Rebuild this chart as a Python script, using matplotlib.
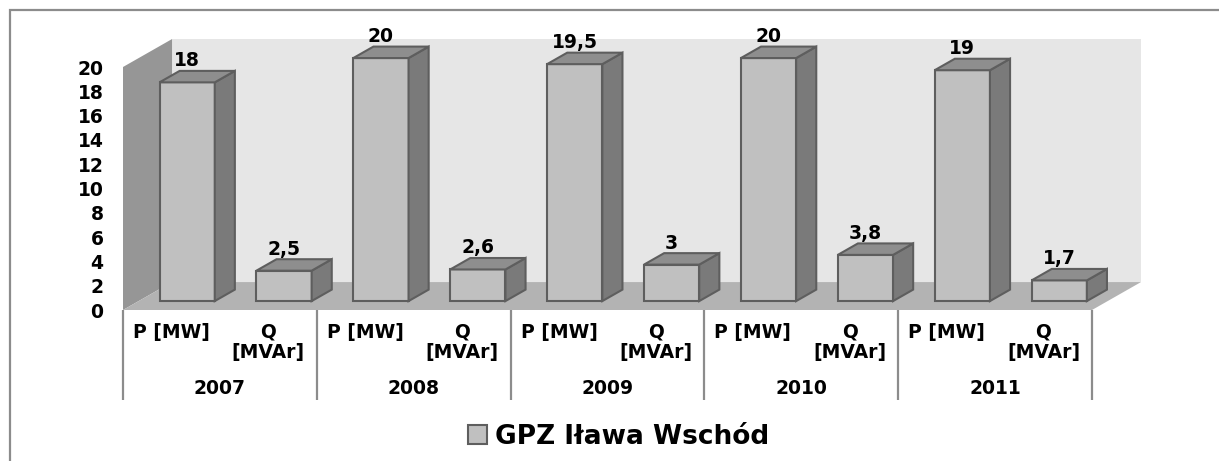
import matplotlib.pyplot as plt
from matplotlib.patches import Polygon, Rectangle

plt.rcParams['font.family'] = ['DejaVu Sans']
plt.rcParams['font.weight'] = 'bold'

years = ["2007", "2008", "2009", "2010", "2011"]
kinds = ["P [MW]", "Q\n[MVAr]"]
p_mw = [18, 20, 19.5, 20, 19]
q_mvar = [2.5, 2.6, 3, 3.8, 1.7]
series_name = "GPZ Iława Wschód"

values = []
for p, q in zip(p_mw, q_mvar):
    values += [p, q]
labels = kinds * len(years)
n = len(values)
ymax = 20

# pseudo-3d depth of the box, in data units
DX, DY = 0.506, 2.30
d_front, d_back = 0.32, 0.73
bar_w = 0.57

front_c = "#c0c0c0"
side_c = "#7a7a7a"
top_c = "#8e8e8e"
edge_c = "#5e5e5e"
fs = 13.5

W, H = 1219, 461
fig = plt.figure(figsize=(W / 100, H / 100), dpi=100)
ax = fig.add_axes([123 / W, 1 - 310 / H, (1092 - 123) / W, (310 - 67) / H])
ax.set_xlim(0, n)
ax.set_ylim(0, ymax)

# walls and floor
back = Polygon([(DX, DY), (n + DX, DY), (n + DX, ymax + DY), (DX, ymax + DY)],
               closed=True, fc="#e6e6e6", ec="none", clip_on=False, zorder=1)
left = Polygon([(0, 0), (DX, DY), (DX, ymax + DY), (0, ymax)],
               closed=True, fc="#969696", ec="none", clip_on=False, zorder=1)
floor = Polygon([(0, 0), (n, 0), (n + DX, DY), (DX, DY)],
                closed=True, fc="#b3b3b3", ec="none", clip_on=False, zorder=2)
for p in (back, left, floor):
    ax.add_patch(p)

# bars: front faces through ax.bar, then side and top faces
xs = [i + 0.5 + d_front * DX for i in range(n)]
y0 = d_front * DY
bars = ax.bar(xs, values, width=bar_w, bottom=y0, color=front_c,
              edgecolor=edge_c, linewidth=1.5, zorder=4, label=series_name,
              clip_on=False)
ddx = (d_back - d_front) * DX
ddy = (d_back - d_front) * DY
for rect, v in zip(bars, values):
    x0 = rect.get_x()
    x1 = x0 + rect.get_width()
    top = y0 + v
    side = Polygon([(x1, y0), (x1 + ddx, y0 + ddy), (x1 + ddx, top + ddy), (x1, top)],
                   closed=True, fc=side_c, ec=edge_c, lw=1.5, zorder=4, clip_on=False)
    cap = Polygon([(x0, top), (x1, top), (x1 + ddx, top + ddy), (x0 + ddx, top + ddy)],
                  closed=True, fc=top_c, ec=edge_c, lw=1.5, zorder=4, clip_on=False)
    ax.add_patch(side)
    ax.add_patch(cap)
    txt = f"{v:g}".replace(".", ",")
    ax.text(rect.get_x() + rect.get_width() / 2, top + ddy + 0.05, txt,
            ha="center", va="bottom", fontsize=fs, fontweight="bold", zorder=6)

# axes and category table
for s in ax.spines.values():
    s.set_visible(False)
ax.set_yticks(range(0, ymax + 1, 2))
ax.tick_params(axis="y", length=0, pad=14, labelsize=fs)
ax.set_xticks([i + 0.5 for i in range(n)])
ax.set_xticklabels(labels, fontsize=fs, fontweight="bold", linespacing=1.1)
ax.tick_params(axis="x", length=0, pad=9)

table_bottom = -(400 - 310) / 12.15
ax.vlines(range(0, n + 1, 2), table_bottom, 0, colors="#8c8c8c", lw=1.6,
          clip_on=False, zorder=3)
for j, yr in enumerate(years):
    ax.text(2 * j + 1, -6.5, yr, ha="center", va="center",
            fontsize=fs, fontweight="bold")

# outer chart frame
fig.patches.append(Rectangle((10 / W, -0.2), 1.2, 1.2 - 10 / H,
                             transform=fig.transFigure, fill=False,
                             ec="#8c8c8c", lw=1.6))

fig.legend(handles=[bars], labels=[series_name], loc="center",
           bbox_to_anchor=(619 / W, 1 - 437 / H), frameon=False,
           prop={"size": 19, "weight": "bold"}, handlelength=0.72,
           handleheight=0.72, handletextpad=0.3)

fig.savefig("out.png", dpi=100)
